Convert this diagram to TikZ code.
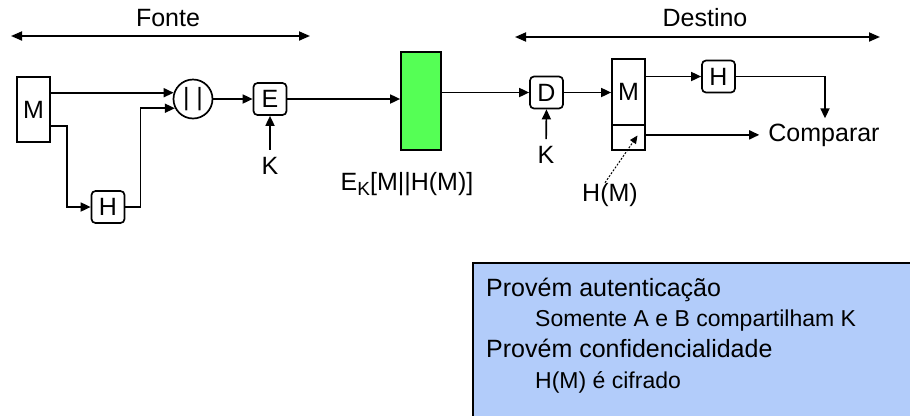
\documentclass[tikz,border=0pt]{standalone}
\usepackage{fontspec}
\setmainfont{Liberation Sans}
\usetikzlibrary{arrows.meta,calc}
\definecolor{boxgreen}{RGB}{85,255,85}
\definecolor{infoblue}{RGB}{178,204,250}
\begin{document}
\begin{tikzpicture}[x=1pt,y=-1pt,
  lbl/.style={font=\fontsize{25}{29}\selectfont, inner sep=0pt},
  arr/.style={line width=1.7pt, -{Triangle[length=10pt,width=9pt]}},
  rbox/.style={draw, line width=1.7pt, rounded corners=4pt, minimum width=33pt, minimum height=32pt, inner sep=0pt, font=\fontsize{25}{29}\selectfont},
  sbox/.style={draw, line width=1.7pt, inner sep=0pt, minimum width=33pt, font=\fontsize{25}{29}\selectfont},
  span/.style={line width=1.8pt, {Triangle[length=11pt,width=9pt]}-{Triangle[length=11pt,width=9pt]}},
  dotarr/.style={line width=1pt, dash pattern=on 2pt off 1.5pt, -{Triangle[length=8pt,width=7pt]}},
  infoa/.style={anchor=base west, inner sep=0pt, font=\fontsize{25}{29}\selectfont},
  infob/.style={anchor=base west, inner sep=0pt, font=\fontsize{23}{27}\selectfont}
]
\useasboundingbox (0,0) rectangle (910,416);

% info box
\node[fill=infoblue, minimum width=437pt, minimum height=153pt, anchor=north west, inner sep=0pt] (info) at (473,263) {};
\draw[line width=2pt] (info.north east) -- (info.north west) -- (info.south west);
\node[infoa] (t1) at (486,296) {Provém autenticação};
\node[infob] (t2) at (535,326) {Somente A e B compartilham K};
\node[infoa] (t3) at (486,357) {Provém confidencialidade};
\node[infob] (t4) at (535,388) {H(M) é cifrado};

% headers
\node[lbl] (fonte) at (168,18) {Fonte};
\coordinate (fl) at (11,36);
\coordinate (fr) at (310,36);
\draw[span] (fl) -- (fr);
\node[lbl] (destino) at (705,18) {Destino};
\coordinate (dl) at (515,37);
\coordinate (dr) at (880,37);
\draw[span] (dl) -- (dr);

% source side
\node[sbox, minimum height=65pt] (M) at (33.5,109.5) {M};
\node[draw, circle, line width=1.7pt, minimum size=39pt, inner sep=0pt, font=\fontsize{25}{29}\selectfont] (cat) at (193,99) {| |};
\node[rbox] (H1) at (108,207) {H};
\node[rbox] (E) at (270,99) {E};
\node[lbl] (K1) at (270,165.5) {K};
\node[draw, line width=1.7pt, fill=boxgreen, minimum width=40pt, minimum height=98pt, inner sep=0pt] (G) at (421,101) {};
\node[lbl, anchor=base] (EK) at (407,190) {E\raisebox{-5pt}{\fontsize{19}{19}\selectfont K}[M||H(M)]};

\coordinate (c1) at (cat.162);
\coordinate (c2) at (cat.207);
\draw[arr] (M.east |- c1) -- (c1);
\draw[arr] ($(M.east)+(0,16.5)$) -| ($(H1.west)+(-24,0)$) -- (H1.west);
\draw[arr] (H1.east) -- ++(15,0) |- (c2);
\draw[arr] (cat.east) -- (E.west |- cat.east);
\draw[arr, shorten <=7pt] (K1.north) -- (E.south);
\draw[arr] (E.east) -- (G.west |- E.east);

% destination side
\node[rbox] (D) at (546.5,92.5) {D};
\node[lbl] (K2) at (546,155) {K};
\node[sbox, minimum height=66pt] (Mt) at (628.5,92) {M};
\node[sbox, minimum height=25pt] (Mb) at (628.5,137.5) {};
\node[rbox] (H2) at (718.5,76.5) {H};
\node[lbl, anchor=base] (Cmp) at (824,141) {Comparar};
\node[lbl, anchor=base] (HM) at (610,201) {H(M)};
\coordinate (hmtip) at ($(Mb.center)+(9,-2)$);

\draw[arr] (G.east |- D.west) -- (D.west);
\draw[arr, shorten <=7pt] (K2.north) -- (D.south);
\draw[arr] (D.east) -- (Mt.west |- D.east);
\draw[arr] (Mt.east |- H2.west) -- (H2.west);
\draw[arr] (H2.east) -| ($(Cmp.north)+(1,-5)$);
\draw[arr, shorten >=9pt] (Mb.east |- Cmp.west) -- (Cmp.west);
\draw[dotarr] ($(HM.north)+(-5,0)$) -- (hmtip);
\end{tikzpicture}
\end{document}
